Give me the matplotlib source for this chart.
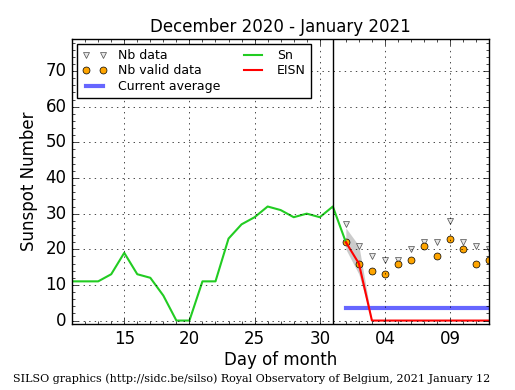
import matplotlib
matplotlib.use("Agg")
import matplotlib.pyplot as plt
import numpy as np
from matplotlib.ticker import MultipleLocator

# days counted from 1 December 2020 (Jan 1 = 32)
sn_days = list(range(11, 33))
sn_values = [11, 11, 11, 13, 19, 13, 12, 7, 0, 0, 11, 11, 23, 27, 29, 32, 31, 29, 30, 29, 32, 22]

eisn_days = list(range(32, 44))
eisn_values = [22, 16, 0, 0, 0, 0, 0, 0, 0, 0, 0, 0]

band_days = [32, 33, 34]
band_low = [20, 13, 0]
band_high = [26, 21, 0]

nb_days = list(range(32, 44))
nb_data = [27, 21, 18, 17, 17, 20, 22, 22, 28, 22, 21, 20]
nb_valid = [22, 16, 14, 13, 16, 17, 21, 18, 23, 20, 16, 17]

avg_days = [32, 43]
avg_value = 3.4

tick_days = [15, 20, 25, 30, 35, 40]
tick_labels = ["15", "20", "25", "30", "04", "09"]

plt.style.use("classic")
fig = plt.figure(figsize=(5.15, 3.9), dpi=100)
ax = fig.add_axes([0.14, 0.168, 0.81, 0.732])

ax.fill_between(band_days, band_low, band_high, color="0.6", alpha=0.5, linewidth=0)
ax.plot(nb_days, nb_data, "v", markerfacecolor="0.9",
        markeredgecolor="0.3", markersize=5, label="Nb data")
ax.plot(nb_days, nb_valid, "o", markerfacecolor="orange", markeredgecolor="black",
        markersize=5, label="Nb valid data")
ax.plot(avg_days, [avg_value, avg_value], color="#6666ff", linewidth=3, label="Current average")
ax.plot(sn_days, sn_values, color="#22cc22", linewidth=1.5, label="Sn")
ax.plot(eisn_days, eisn_values, color="red", linewidth=1.5, label="EISN")
ax.axvline(31, color="black", linewidth=1)

ax.set_xlim(11, 43)
ax.set_ylim(-1.1, 79)
ax.set_xticks(tick_days)
ax.set_xticklabels(tick_labels)
ax.xaxis.set_minor_locator(MultipleLocator(1))
ax.yaxis.set_minor_locator(MultipleLocator(2))
ax.set_yticks(range(0, 80, 10))
ax.grid(True, which="major", linestyle=":", color="black")
ax.tick_params(labelsize=12)

ax.set_title("December 2020 - January 2021", fontsize=12)
ax.set_xlabel("Day of month", fontsize=12, labelpad=2)
ax.set_ylabel("Sunspot Number", fontsize=12)

ax.legend(loc="upper left", ncol=2, fontsize=9, numpoints=2, handlelength=2.0,
          handletextpad=0.9, columnspacing=1.6, borderaxespad=0.4, labelspacing=0.2)

fig.text(0.488, 0.02, "SILSO graphics (http://sidc.be/silso) Royal Observatory of Belgium, 2021 January 12",
         ha="center", fontsize=8, family="DejaVu Serif")

fig.savefig("out.png", dpi=100)
